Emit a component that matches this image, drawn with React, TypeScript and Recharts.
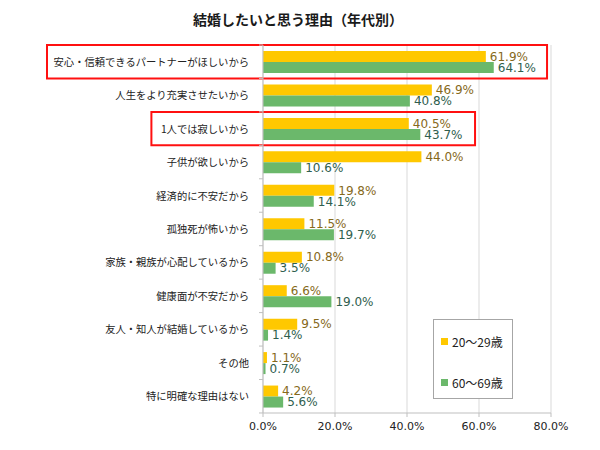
import React from "react";
import { BarChart, Bar, XAxis, YAxis, CartesianGrid, LabelList, ReferenceArea } from "recharts";

const title = "結婚したいと思う理由（年代別）";
const categories = [
  "安心・信頼できるパートナーがほしいから",
  "人生をより充実させたいから",
  "1人では寂しいから",
  "子供が欲しいから",
  "経済的に不安だから",
  "孤独死が怖いから",
  "家族・親族が心配しているから",
  "健康面が不安だから",
  "友人・知人が結婚しているから",
  "その他",
  "特に明確な理由はない",
];
const seriesNames = ["20～29歳", "60～69歳"];
const young = [61.9, 46.9, 40.5, 44.0, 19.8, 11.5, 10.8, 6.6, 9.5, 1.1, 4.2];
const senior = [64.1, 40.8, 43.7, 10.6, 14.1, 19.7, 3.5, 19.0, 1.4, 0.7, 5.6];
const xTicks = [0, 20, 40, 60, 80];
const highlighted = [
  { cat: categories[0], from: -60, to: 78.9 },
  { cat: categories[2], from: -31, to: 58.9 },
];

const data = categories.map((name, i) => ({ name, young: young[i], senior: senior[i] }));

const colors = ["#FFC800", "#6BB86B"];
const labelColors = ["#86691A", "#2F5E4E"];
const FONT = '"Noto Sans CJK JP", "Noto Sans", sans-serif';
const NUM_FONT = '"DejaVu Sans", "Noto Sans CJK JP", sans-serif';

const fmt = (v: number) => `${Number(v).toFixed(1)}%`;

const YTick = (props: any) => {
  const { x, y, payload, index } = props;
  const ax = x + 14;
  return (
    <g>
      {index === 0 && <line x1={ax - 4} x2={ax} y1={y - 16.7} y2={y - 16.7} stroke="#bfbfbf" />}
      <line x1={ax - 4} x2={ax} y1={y + 16.7} y2={y + 16.7} stroke="#bfbfbf" />
      <text x={x} y={y} dy={4} textAnchor="end" fontSize={10.3} fill="#222" fontFamily={FONT}>
        {payload.value}
      </text>
    </g>
  );
};

export default function App() {
  return (
    <div style={{ position: "absolute", left: 0, top: 0, width: 600, height: 450, fontFamily: FONT, background: "#fff" }}>
      <div
        style={{
          position: "absolute",
          top: 9,
          left: 0,
          width: 596,
          textAlign: "center",
          fontSize: 14,
          fontWeight: "bold",
          color: "#1a1a1a",
        }}
      >
        {title}
      </div>
      <BarChart
        layout="vertical"
        width={600}
        height={450}
        data={data}
        margin={{ top: 45, right: 49, bottom: 7, left: 10 }}
        barGap={0}
        barSize={11}
      >
        <CartesianGrid horizontal={false} stroke="#d9d9d9" />
        <XAxis
          type="number"
          domain={[0, 80]}
          ticks={xTicks}
          tickFormatter={fmt}
          axisLine={{ stroke: "#bfbfbf" }}
          tickLine={{ stroke: "#bfbfbf" }}
          tickSize={4}
          tickMargin={5}
          tick={{ fontSize: 11, fill: "#222", fontFamily: NUM_FONT }}
          height={30}
        />
        <YAxis
          type="category"
          dataKey="name"
          width={253}
          tickSize={0}
          tickMargin={14}
          interval={0}
          axisLine={{ stroke: "#bfbfbf" }}
          tick={<YTick />}
        />
        <Bar dataKey="young" name={seriesNames[0]} fill={colors[0]} isAnimationActive={false}>
          <LabelList dataKey="young" position="right" offset={4} formatter={fmt} fill={labelColors[0]} fontSize={12} fontFamily={NUM_FONT} />
        </Bar>
        <Bar dataKey="senior" name={seriesNames[1]} fill={colors[1]} isAnimationActive={false}>
          <LabelList dataKey="senior" position="right" offset={4} formatter={fmt} fill={labelColors[1]} fontSize={12} fontFamily={NUM_FONT} />
        </Bar>
        {highlighted.map((h) => (
          <ReferenceArea
            key={h.cat}
            x1={h.from}
            x2={h.to}
            y1={h.cat}
            y2={h.cat}
            ifOverflow="visible"
            fill="none"
            fillOpacity={0}
            stroke="#FF1010"
            strokeWidth={2}
          />
        ))}
      </BarChart>
      <div
        style={{
          position: "absolute",
          left: 433,
          top: 319,
          width: 80,
          height: 80,
          border: "1px solid #a6a6a6",
          background: "#fff",
          boxSizing: "border-box",
        }}
      >
        {seriesNames.map((n, i) => (
          <div
            key={n}
            style={{
              position: "absolute",
              left: 7,
              top: i === 0 ? 13 : 54,
              display: "flex",
              alignItems: "center",
              fontSize: 12,
              color: "#222",
              whiteSpace: "nowrap",
            }}
          >
            <span style={{ display: "inline-block", width: 7, height: 7, background: colors[i], marginRight: 4 }} />
            {n}
          </div>
        ))}
      </div>
    </div>
  );
}
